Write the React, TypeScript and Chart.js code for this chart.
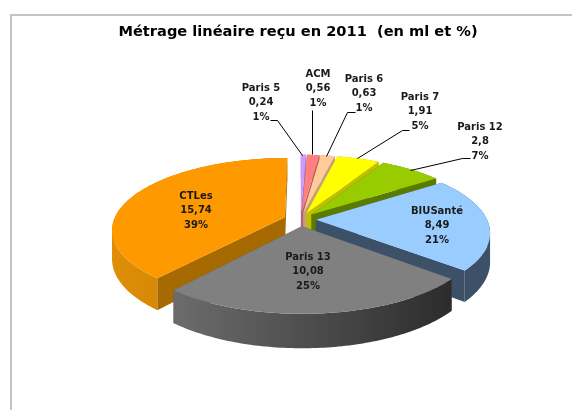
import React, { useEffect, useRef } from "react";
import { Chart, registerables } from "chart.js";

Chart.register(...registerables);

const categories = ["Paris 5", "ACM", "Paris 6", "Paris 7", "Paris 12", "BIUSanté", "Paris 13", "CTLes"];
const values = [0.24, 0.56, 0.63, 1.91, 2.8, 8.49, 10.08, 15.74];
const percents = [1, 1, 1, 5, 7, 21, 25, 39];
const topColors = ["#CC99FF", "#FF8080", "#FFCC99", "#FFFF00", "#99CC00", "#99CCFF", "#808080", "#FF9900"];
const cutColors = ["#9A74C4", "#B85C5C", "#C89F78", "#C2BE00", "#5A7A00", "#3C5068", "#555555", "#A66A00"];
const rimFrom = ["#9A74C4", "#B85C5C", "#C89F78", "#C2BE00", "#5A7A00", "#3C5068", "#6C6C6C", "#E08E08"];
const rimTo = ["#9A74C4", "#B85C5C", "#C89F78", "#C2BE00", "#5A7A00", "#3C5068", "#2C2C2C", "#BC7800"];
const explodeOffsets = [60, 60, 60, 60, 60, 56, 60, 60];
const drawOrder = [0, 1, 2, 3, 4, 5, 7, 6];

const labelPositions = [
  [261, 88], [318, 74], [364, 79], [420, 97], [480, 127], [437, 211], [308, 257], [196, 196],
];
const leaderLines = [
  [[270, 120], [277, 120], [302, 155]],
  [[312, 110], [312, 154]],
  [[355, 112], [347, 112], [326, 156]],
  [[409, 130], [402, 130], [357, 158]],
  [[470, 158], [462, 158], [410, 170]],
];

// Perspective of the tilted pie plane
const VIEW = { xc: 300.5, yc: 219.5, ax: 171, ay: 70, persp: 0.17, depth: 28 };

function project(u: number, v: number) {
  const w = 1 - VIEW.persp * v;
  return { x: VIEW.xc + (VIEW.ax * u) / w, y: VIEW.yc + (VIEW.ay * v) / w, d: VIEW.depth / w };
}

function drawSlice(ctx: CanvasRenderingContext2D, el: any, i: number) {
  const { startAngle, endAngle, outerRadius } = el;
  const offset = (el.options.offset || 0) / 4 / outerRadius;
  const mid = (startAngle + endAngle) / 2;
  const ox = Math.cos(mid) * offset;
  const oy = Math.sin(mid) * offset;
  const steps = Math.max(2, Math.ceil((endAngle - startAngle) / (Math.PI / 180)));
  const apex = project(ox, oy);
  const rim = [];
  for (let s = 0; s <= steps; s++) {
    const a = startAngle + ((endAngle - startAngle) * s) / steps;
    rim.push(project(Math.cos(a) + ox, Math.sin(a) + oy));
  }
  // All quads of one face go into a single path, wound the same way, so no seams show.
  const face = (pts: any[], color: any) => {
    ctx.beginPath();
    for (let k = 0; k + 1 < pts.length; k++) {
      let p = pts[k];
      let q = pts[k + 1];
      if (q.x < p.x) [p, q] = [q, p];
      ctx.moveTo(p.x, p.y);
      ctx.lineTo(q.x, q.y);
      ctx.lineTo(q.x, q.y + q.d);
      ctx.lineTo(p.x, p.y + p.d);
      ctx.closePath();
    }
    ctx.fillStyle = color;
    ctx.fill();
  };
  face([apex, rim[0]], cutColors[i]);
  face([apex, rim[rim.length - 1]], cutColors[i]);
  const xs = rim.map((p) => p.x);
  const g = ctx.createLinearGradient(Math.min(...xs), 0, Math.max(...xs), 0);
  g.addColorStop(0, rimFrom[i]);
  g.addColorStop(1, rimTo[i]);
  face(rim, g);
  ctx.beginPath();
  ctx.moveTo(apex.x, apex.y);
  rim.forEach((p) => ctx.lineTo(p.x, p.y));
  ctx.closePath();
  ctx.fillStyle = el.options.backgroundColor;
  ctx.fill();
}

const pie3d = {
  id: "pie3d",
  beforeDatasetDraw: () => false,
  afterDatasetsDraw(chart: any) {
    const ctx: CanvasRenderingContext2D = chart.ctx;
    const arcs = chart.getDatasetMeta(0).data;
    ctx.save();
    drawOrder.forEach((i) => drawSlice(ctx, arcs[i], i));
    ctx.strokeStyle = "#000000";
    ctx.lineWidth = 1;
    leaderLines.forEach((pts) => {
      ctx.beginPath();
      pts.forEach(([x, y], k) => (k ? ctx.lineTo(x + 0.5, y + 0.5) : ctx.moveTo(x + 0.5, y + 0.5)));
      ctx.stroke();
    });
    ctx.fillStyle = "#1a1a1a";
    ctx.font = "bold 10px 'DejaVu Sans'";
    ctx.textAlign = "center";
    ctx.textBaseline = "middle";
    categories.forEach((name, i) => {
      const [x, y] = labelPositions[i];
      ctx.fillText(name, x, y);
      ctx.fillText(String(values[i]).replace(".", ","), x, y + 14.5);
      ctx.fillText(percents[i] + "%", x, y + 29);
    });
    ctx.restore();
  },
};

export default function App() {
  const ref = useRef<HTMLCanvasElement>(null);
  useEffect(() => {
    const chart = new Chart(ref.current as HTMLCanvasElement, {
      type: "pie",
      data: {
        labels: categories,
        datasets: [{ data: values, backgroundColor: topColors, offset: explodeOffsets, borderWidth: 0 }],
      },
      options: {
        animation: false,
        responsive: false,
        layout: { padding: { left: 24, top: 23 } },
        plugins: {
          legend: { display: false },
          tooltip: { enabled: false },
          title: {
            display: true,
            fullSize: false,
            text: "Métrage linéaire reçu en 2011  (en ml et %)",
            color: "#000000",
            font: { family: "'DejaVu Sans'", size: 14.6, weight: "bold" },
            padding: 0,
          },
        },
      },
      plugins: [pie3d],
    } as any);
    return () => chart.destroy();
  }, []);
  return (
    <div style={{ position: "fixed", left: 0, top: 0, width: 572, height: 410, overflow: "hidden", background: "#fff" }}>
      <div
        style={{
          position: "absolute",
          left: 10,
          top: 14,
          width: 900,
          height: 900,
          borderLeft: "2px solid #c4c4c4",
          borderTop: "2px solid #c4c4c4",
        }}
      />
      <canvas ref={ref} width={572} height={410} style={{ position: "absolute", left: 0, top: 0, display: "block" }} />
    </div>
  );
}
